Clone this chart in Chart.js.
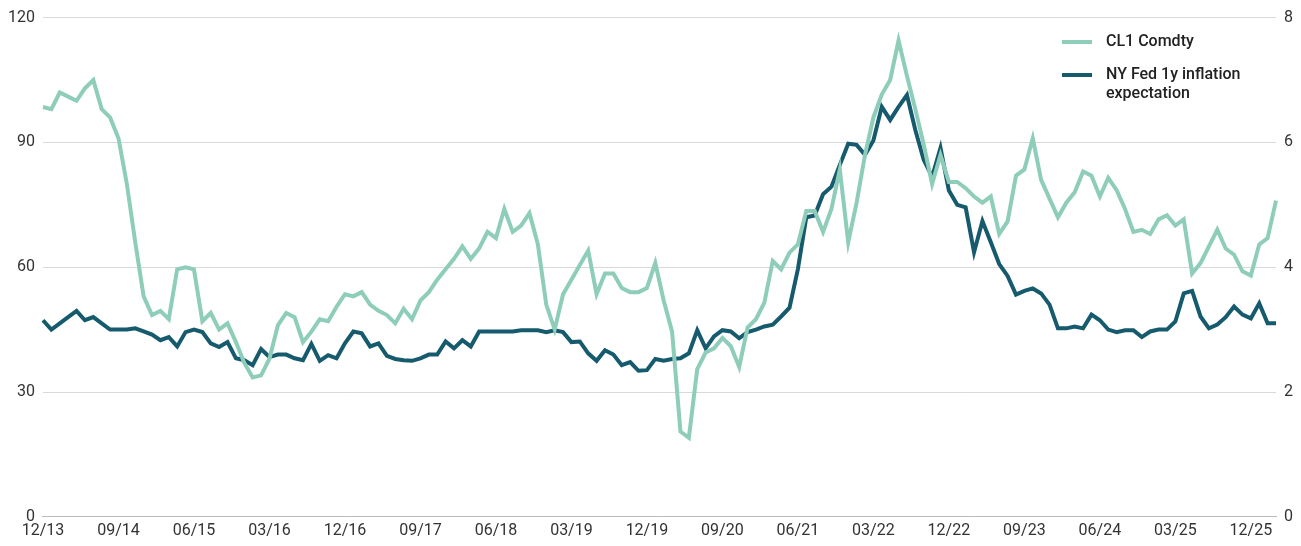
<!DOCTYPE html>
<html>
<head>
<meta charset="utf-8">
<script src="https://cdn.jsdelivr.net/npm/chart.js@4.4.1/dist/chart.umd.min.js"></script>
<style>
  html, body { margin: 0; padding: 0; background: #fff; }
  #wrap { position: relative; width: 1301px; height: 546px; }
  #legend { position: absolute; left: 1062px; top: 31px; font-family: Roboto, sans-serif; font-size: 16px; font-weight: 500; color: #222; }
  .item { display: flex; align-items: flex-start; margin-bottom: 14px; }
  .swatch { width: 30px; height: 4px; margin-top: 9px; margin-right: 14px; flex: none; }
</style>
</head>
<body>
<div id="wrap">
  <canvas id="chart" width="1301" height="546"></canvas>
  <div id="legend">
    <div class="item"><span class="swatch" style="background:#8ecdb9"></span><span>CL1 Comdty</span></div>
    <div class="item"><span class="swatch" style="background:#165a6e"></span><span>NY Fed 1y inflation<br>expectation</span></div>
  </div>
</div>
<script>
// --- datos ---
const meses = [];
for (let i = 0; i < 148; i++) {
    const m = (11 + i) % 12 + 1;
    const a = 13 + Math.floor((11 + i) / 12);
    meses.push(String(m).padStart(2, '0') + '/' + a);
}

// CL1 Comdty (eje izquierdo)
const petroleo = [
    98.5, 98, 102, 101, 100, 103, 105, 98, 96, 91, 80, 66, 53, 48.5, 49.5, 47.5, 59.5, 60, 59.5, 47,
    49, 45, 46.5, 42, 37, 33.5, 34, 38, 46, 49, 48, 42, 44.5, 47.5, 47, 50.5, 53.5, 53, 54, 51,
    49.5, 48.5, 46.5, 50, 47.5, 52, 54, 57, 59.5, 62, 65, 62, 64.5, 68.5, 67, 74, 68.5, 70, 73, 65.5,
    51, 45, 53.5, 57, 60.5, 64, 53.5, 58.5, 58.5, 55, 54, 54, 55, 61, 52, 44.5, 20.5, 19, 35.5, 39.5,
    40.5, 43, 41, 36, 45.5, 47.5, 51.5, 61.5, 59.5, 63.5, 65.5, 73.5, 73.5, 68.5, 74, 83.5, 66, 75.5, 87, 96,
    101.5, 105, 114.5, 106, 98, 89.5, 80, 87, 80.5, 80.5, 79, 77, 75.5, 77, 68, 71, 82, 83.5, 91, 81,
    76.5, 72, 75.5, 78, 83, 82, 77, 81.5, 78.5, 74, 68.5, 69, 68, 71.5, 72.5, 70, 71.5, 58.5, 61, 65,
    69, 64.5, 63, 59, 58, 65.5, 67, 76
];

// NY Fed 1y inflation expectation (eje derecho)
const inflacion = [
    3.15, 3.0, 3.1, 3.2, 3.3, 3.15, 3.2, 3.1, 3.0, 3.0, 3.0, 3.02, 2.97, 2.92, 2.83, 2.88, 2.73, 2.96, 3.0, 2.96,
    2.78, 2.72, 2.8, 2.54, 2.51, 2.43, 2.69, 2.56, 2.6, 2.6, 2.54, 2.51, 2.77, 2.5, 2.59, 2.54, 2.78, 2.97, 2.94, 2.73,
    2.78, 2.58, 2.53, 2.51, 2.5, 2.54, 2.6, 2.6, 2.81, 2.7, 2.83, 2.73, 2.97, 2.97, 2.97, 2.97, 2.97, 2.99, 2.99, 2.99,
    2.96, 2.99, 2.96, 2.8, 2.81, 2.62, 2.5, 2.67, 2.6, 2.43, 2.48, 2.34, 2.35, 2.53, 2.5, 2.53, 2.54, 2.62, 2.99, 2.7,
    2.89, 2.99, 2.97, 2.86, 2.96, 3.0, 3.05, 3.08, 3.21, 3.35, 3.97, 4.8, 4.83, 5.17, 5.29, 5.64, 5.98, 5.96, 5.8, 6.03,
    6.57, 6.36, 6.57, 6.76, 6.2, 5.72, 5.45, 5.91, 5.23, 5.0, 4.96, 4.24, 4.74, 4.4, 4.05, 3.86, 3.56, 3.62, 3.66, 3.58,
    3.4, 3.02, 3.02, 3.05, 3.02, 3.24, 3.15, 3.0, 2.96, 2.99, 2.99, 2.88, 2.97, 3.0, 3.0, 3.13, 3.58, 3.62, 3.21, 3.02,
    3.08, 3.2, 3.37, 3.24, 3.18, 3.42, 3.1, 3.1
];

const ticksIzq = [0, 30, 60, 90, 120];
const ticksDer = [0, 2, 4, 6, 8];

// --- grafico ---
const fuente = { family: 'Roboto, sans-serif', size: 16 };

new Chart(document.getElementById('chart'), {
    type: 'line',
    data: {
        labels: meses,
        datasets: [
            {
                label: 'CL1 Comdty',
                data: petroleo,
                borderColor: '#8ecdb9',
                borderWidth: 4,
                pointRadius: 0,
                tension: 0,
                yAxisID: 'y'
            },
            {
                label: 'NY Fed 1y inflation expectation',
                data: inflacion,
                borderColor: '#165a6e',
                borderWidth: 4,
                pointRadius: 0,
                tension: 0,
                yAxisID: 'y1'
            }
        ]
    },
    options: {
        responsive: false,
        animation: false,
        layout: { padding: { top: 0, right: 0, left: 0, bottom: 0 } },
        plugins: { legend: { display: false }, tooltip: { enabled: false } },
        scales: {
            x: {
                offset: false,
                grid: { display: false, drawTicks: false },
                border: { color: '#bbb' },
                ticks: {
                    autoSkip: false, maxRotation: 0, color: '#333', font: fuente, padding: 5,
                    callback: (v, i) => (i % 9 === 0 ? meses[i] : null)
                }
            },
            y: {
                position: 'left',
                min: ticksIzq[0], max: ticksIzq[ticksIzq.length - 1],
                afterBuildTicks: ax => { ax.ticks = ticksIzq.map(v => ({ value: v })); },
                grid: { color: '#d9d9d9', lineWidth: 1, drawTicks: false },
                border: { display: false },
                ticks: { color: '#333', font: fuente, padding: 8 }
            },
            y1: {
                position: 'right',
                min: ticksDer[0], max: ticksDer[ticksDer.length - 1],
                afterBuildTicks: ax => { ax.ticks = ticksDer.map(v => ({ value: v })); },
                grid: { drawOnChartArea: false, drawTicks: false },
                border: { display: false },
                ticks: { color: '#333', font: fuente, padding: 8 }
            }
        }
    }
});
</script>
</body>
</html>
